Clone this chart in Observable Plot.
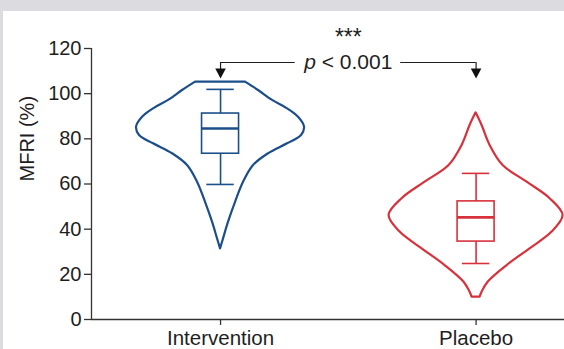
<!DOCTYPE html>
<html><head><meta charset="utf-8">
<script src="https://cdn.jsdelivr.net/npm/d3@7"></script>
<script src="https://cdn.jsdelivr.net/npm/@observablehq/plot@0.6"></script>
<style>
html,body{margin:0;padding:0;background:#dcdce0;width:564px;height:349px;overflow:hidden}
#chart{position:absolute;left:3px;top:11px;width:561px;height:338px;background:#fff}
</style></head><body><div id="chart"></div>
<script>
// ---- data ----
const categories = ["Intervention", "Placebo"];
const categoryPos = [1, 2];
const colors = ["#1c4f8a", "#d7323b"];
const yTicks = [0, 20, 40, 60, 80, 100, 120];
const yLabel = "MFRI (%)";
// violin outlines: value (%) and relative half-width (density)
const interventionValues  = [105.1, 101.4, 97, 93.3, 89.6, 85.2, 81.5, 77.8, 73.4, 68.2, 60.8, 51.9, 43.1, 35.7, 31.3];
const interventionDensity = [25, 38, 52, 67, 78, 84, 81, 67, 48, 33, 23, 15, 8, 3, 0];
const placeboValues  = [91.5, 85.9, 77.1, 68.2, 60.8, 53.5, 46.1, 38.7, 31.3, 23.9, 16.5, 12.1, 9.9];
const placeboDensity = [0, 6, 14, 27, 51, 74, 87, 76, 54, 31, 12, 6, 4];
// box stats: [lower whisker, q1, median, q3, upper whisker]
const interventionBox = [59.8, 73.4, 84.6, 91.2, 101.9];
const placeboBox = [24.8, 34.5, 45.2, 52.3, 64.7];
// significance annotation
const annotationStars = "***";
const annotationP = "p < 0.001";
const bracketValue = 113.8;
const arrowTipValue = 106.7;
const starsValue = 124.8;

// ---- build tables ----
const W = 561, H = 338;
const xDomain = [0.495, 2.346];
const pxPerUnit = (W - 88) / (xDomain[1] - xDomain[0]);
const densityScale = 1 / pxPerUnit;
const boxHalf = 18.5 / pxPerUnit, capHalf = 13.7 / pxPerUnit;

const violins = [
  interventionValues.map((v, i) => ({cat: 0, v, d: interventionDensity[i]})),
  placeboValues.map((v, i) => ({cat: 1, v, d: placeboDensity[i]}))
];
const boxes = [interventionBox, placeboBox].map((b, i) => ({
  cat: i, c: categoryPos[i], lo: b[0], q1: b[1], med: b[2], q3: b[3], hi: b[4]
}));

const arrowDown = {
  draw(ctx) { ctx.moveTo(0, 0); ctx.lineTo(-5.3, -10); ctx.lineTo(5.3, -10); ctx.closePath(); }
};

const ink = "#1e1e1e";
const marks = [];
violins.forEach((vd, i) => {
  marks.push(Plot.areaX(vd, {
    y: "v",
    x1: d => categoryPos[i] - d.d * densityScale,
    x2: d => categoryPos[i] + d.d * densityScale,
    curve: "catmull-rom", fill: "none", stroke: colors[i], strokeWidth: 2.2
  }));
});
boxes.forEach((b, i) => {
  const col = colors[i];
  marks.push(
    Plot.ruleX([b], {x: "c", y1: "lo", y2: "q1", stroke: col, strokeWidth: 1.6}),
    Plot.ruleX([b], {x: "c", y1: "q3", y2: "hi", stroke: col, strokeWidth: 1.6}),
    Plot.ruleY([b], {y: "lo", x1: d => d.c - capHalf, x2: d => d.c + capHalf, stroke: col, strokeWidth: 1.6}),
    Plot.ruleY([b], {y: "hi", x1: d => d.c - capHalf, x2: d => d.c + capHalf, stroke: col, strokeWidth: 1.6}),
    Plot.rect([b], {x1: d => d.c - boxHalf, x2: d => d.c + boxHalf, y1: "q1", y2: "q3", fill: "none", stroke: col, strokeWidth: 1.6}),
    Plot.ruleY([b], {y: "med", x1: d => d.c - boxHalf, x2: d => d.c + boxHalf, stroke: col, strokeWidth: 2.6})
  );
});

const mid = (categoryPos[0] + categoryPos[1]) / 2;
marks.push(
  Plot.ruleY([{x1: categoryPos[0], x2: 1.292}, {x1: 1.705, x2: categoryPos[1]}], {y: bracketValue, x1: "x1", x2: "x2", stroke: ink, strokeWidth: 1.2}),
  Plot.ruleX(categoryPos, {x: d => d, y1: bracketValue, y2: arrowTipValue + 3, stroke: ink, strokeWidth: 1.2}),
  Plot.dot(categoryPos, {x: d => d, y: arrowTipValue, symbol: arrowDown, fill: "#111", stroke: null}),
  Plot.text([annotationStars], {x: mid, y: starsValue, text: d => d, fontSize: 23, fill: ink}),
  Plot.text([annotationP], {x: mid, y: bracketValue, text: d => d, fontSize: 21, fill: ink}),
  Plot.text([yLabel], {frameAnchor: "left", dx: -64, dy: -2.5, rotate: -90, text: d => d, fontSize: 20, fill: ink}),
  Plot.ruleX([xDomain[0]], {y1: 0, y2: 120, stroke: "#333", strokeWidth: 1.3}),
  Plot.ruleY([0], {stroke: "#333", strokeWidth: 1.3}),
  Plot.axisY({ticks: yTicks, tickSize: 7, tickPadding: 3, fontSize: 20, label: null, stroke: "#333", strokeWidth: 1.3, color: ink}),
  Plot.axisX({ticks: categoryPos, tickFormat: d => categories[d - 1], tickSize: 6, tickPadding: 5, fontSize: 20.5, label: null, stroke: "#333", strokeWidth: 1.3, color: ink})
);

const plot = Plot.plot({
  width: W, height: H,
  marginLeft: 88, marginRight: 0, marginTop: 37, marginBottom: 30,
  x: {type: "linear", domain: xDomain},
  y: {domain: [0, 120]},
  style: {fontFamily: "'Liberation Sans', Arial, Helvetica, sans-serif", background: "#fff", color: ink},
  marks
});
plot.querySelectorAll("text").forEach(t => {
  if (t.textContent === annotationP) {
    const tspans = t.querySelectorAll("tspan");
    const target = tspans.length ? tspans[0] : t;
    target.textContent = "";
    const ns = "http://www.w3.org/2000/svg";
    const p = document.createElementNS(ns, "tspan");
    p.setAttribute("font-style", "italic");
    p.textContent = annotationP.slice(0, 1);
    target.appendChild(p);
    target.appendChild(document.createTextNode(annotationP.slice(1)));
  }
});
document.getElementById("chart").appendChild(plot);
</script></body></html>
